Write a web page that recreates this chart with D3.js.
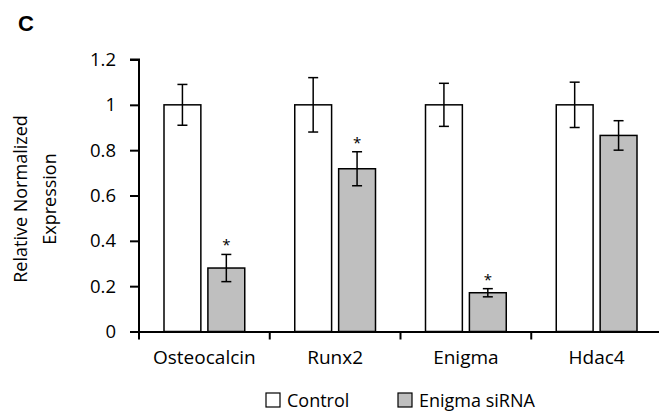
<!DOCTYPE html>
<html><head><meta charset="utf-8">
<script src="https://cdn.jsdelivr.net/npm/d3@7"></script>
<style>body{margin:0;background:#fff}svg{display:block}text{font-family:"Open Sans",sans-serif}</style>
</head><body>
<script>
const categories = ["Osteocalcin", "Runx2", "Enigma", "Hdac4"];
const seriesNames = ["Control", "Enigma siRNA"];
const controlValues = [1, 1, 1, 1];
const controlErrors = [0.09, 0.12, 0.095, 0.1];
const sirnaValues = [0.28, 0.718, 0.171, 0.865];
const sirnaErrors = [0.06, 0.075, 0.018, 0.065];
const significant = [true, true, true, false];
const yTicks = [0, 0.2, 0.4, 0.6, 0.8, 1, 1.2];

const W = 659, H = 416;
const svg = d3.select("body").append("svg").attr("width", W).attr("height", H);

const x0 = 139, x1 = 662;
const x = d3.scaleBand().domain(categories).range([x0, x1]).paddingInner(0).paddingOuter(0);
const xs = d3.scaleBand().domain(seriesNames).range([25, x.bandwidth() - 25]).paddingInner(13 / 81);
const y = d3.scaleLinear().domain([0, 1.2]).range([331.5, 59.5]);

const fills = {"Control": "#ffffff", "Enigma siRNA": "#bfbfbf"};

const rows = categories.map((c, i) => ({
  cat: c,
  vals: [
    {s: "Control", v: controlValues[i], e: controlErrors[i], sig: false},
    {s: "Enigma siRNA", v: sirnaValues[i], e: sirnaErrors[i], sig: significant[i]}
  ]
}));

const g = svg.append("g");
const grp = g.selectAll("g.cat").data(rows).join("g").attr("transform", d => `translate(${x(d.cat)},0)`);
const bars = grp.selectAll("g.bar").data(d => d.vals).join("g");
bars.append("rect")
  .attr("x", d => xs(d.s)).attr("width", xs.bandwidth())
  .attr("y", d => y(d.v)).attr("height", d => y(0) - y(d.v))
  .attr("fill", d => fills[d.s]).attr("stroke", "#000").attr("stroke-width", 1.5);
bars.each(function(d) {
  const gg = d3.select(this);
  const cx = xs(d.s) + xs.bandwidth() / 2;
  gg.append("line").attr("x1", cx).attr("x2", cx).attr("y1", y(d.v + d.e)).attr("y2", y(d.v - d.e)).attr("stroke", "#000").attr("stroke-width", 1.5);
  [d.v + d.e, d.v - d.e].forEach(v => gg.append("line").attr("x1", cx - 5).attr("x2", cx + 5).attr("y1", y(v)).attr("y2", y(v)).attr("stroke", "#000").attr("stroke-width", 1.5));
  if (d.sig) gg.append("text").attr("x", cx).attr("y", y(d.v + d.e) - 4).attr("text-anchor", "middle").attr("font-size", 15).text("*");
});

// y axis
const yAxis = d3.axisLeft(y).tickValues(yTicks).tickSize(9).tickFormat(d => String(d));
const ya = svg.append("g").attr("transform", `translate(${x0},0)`).call(yAxis);
ya.select(".domain").attr("stroke-width", 2).attr("d", `M-9,${y(1.2)}H0V${y(0) + 8}`);
ya.selectAll(".tick line").attr("stroke-width", 2);
ya.selectAll(".tick text").attr("font-size", 18.5).attr("x", -23).attr("fill", "#000").style("font-family", "'Open Sans',sans-serif");

// x axis
const xAxis = d3.axisBottom(x).tickSize(0);
const xa = svg.append("g").attr("transform", `translate(0,${y(0)})`).call(xAxis);
xa.select(".domain").attr("stroke-width", 2);
xa.selectAll(".tick text").attr("font-size", 19).attr("dy", 0).attr("y", 32).attr("fill", "#000").style("font-family", "'Open Sans',sans-serif");
xa.selectAll("line.sep").data(categories.slice(1)).join("line").attr("class", "sep")
  .attr("x1", d => x(d)).attr("x2", d => x(d)).attr("y1", 0).attr("y2", 8).attr("stroke", "#000").attr("stroke-width", 2);

// y title
const yt = svg.append("text").attr("transform", "translate(0,199) rotate(-90)").attr("text-anchor", "middle").attr("font-size", 18).attr("fill", "#000");
yt.append("tspan").attr("x", 0).attr("y", 27).text("Relative Normalized");
yt.append("tspan").attr("x", 0).attr("y", 56).text("Expression");

// panel label
svg.append("text").attr("x", 18).attr("y", 31).attr("font-size", 22).attr("font-weight", "bold").style("font-family", "'Liberation Sans',Arial,sans-serif").text("C");

// legend
const legX = [266, 398];
const leg = svg.append("g").selectAll("g").data(seriesNames).join("g").attr("transform", (d, i) => `translate(${legX[i]},393)`);
leg.append("rect").attr("width", 14).attr("height", 14).attr("fill", d => fills[d]).attr("stroke", "#000").attr("stroke-width", 1.2);
leg.append("text").attr("x", 21).attr("y", 13.5).attr("font-size", 18).attr("fill", "#000").text(d => d);
</script>
</body></html>
